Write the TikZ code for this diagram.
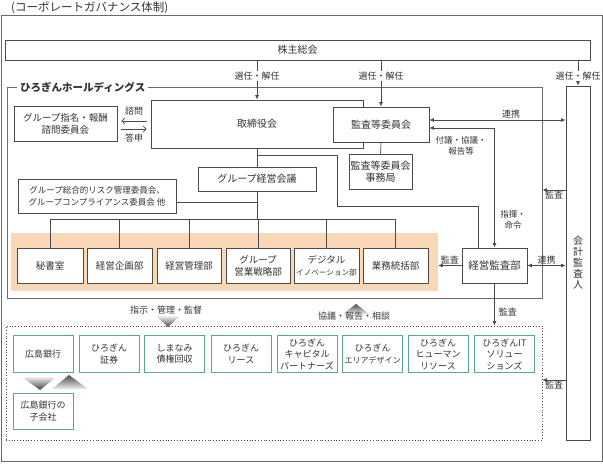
\documentclass[tikz,border=0pt]{standalone}
\usepackage{fontspec}
\setmainfont{Noto Sans CJK JP}
\usetikzlibrary{arrows.meta,calc}
\definecolor{lc}{HTML}{4A4A4A}
\definecolor{fc}{HTML}{6A6A6A}
\definecolor{tc}{HTML}{333333}
\definecolor{peach}{RGB}{250,215,182}
\definecolor{tealc}{RGB}{88,168,148}
\begin{document}
\begin{tikzpicture}[x=1pt,y=-1pt,
  every node/.style={text=tc},
  box/.style={draw=lc, line width=0.8pt, fill=white, inner sep=0pt, align=center},
  dept/.style={box, minimum height=35pt, font=\fontsize{9.5}{12}\selectfont},
  sub/.style={draw=tealc, line width=1pt, fill=white, inner sep=0pt, align=center, minimum width=60pt, minimum height=36pt, font=\fontsize{9}{11.5}\selectfont},
  ln/.style={draw=lc, line width=0.7pt},
  arr/.style={ln, -{Latex[length=4.5pt,width=4pt]}},
  darr/.style={ln, {Latex[length=4.5pt,width=4pt]}-{Latex[length=4.5pt,width=4pt]}},
  barb/.style={ln, -{Straight Barb[length=3pt,width=6pt]}},
  lbl/.style={font=\fontsize{9}{10.5}\selectfont, inner sep=1pt},
]
\useasboundingbox (0,0) rectangle (603,465);

% title and outer frame
\node[anchor=west, font=\fontsize{11.5}{12}\selectfont, inner sep=0pt] (title) at (11,8) {(コーポレートガバナンス体制)};
\draw[fc, line width=0.9pt] (1,15) rectangle (602,461);

\node[box, minimum width=585pt, minimum height=20pt, font=\fontsize{10}{12}\selectfont] (kab) at (297.5,50) {株主総会};

% holdings frame
\node[draw=fc, line width=0.9pt, minimum width=535pt, minimum height=211pt, inner sep=0pt] (hd) at (274.5,192.5) {};
\node[fill=peach, minimum width=427pt, minimum height=58pt, inner sep=0pt] (band) at (224.5,262) {};
\node[anchor=west, fill=white, font=\bfseries\fontsize{10.5}{12}\selectfont, inner xsep=3pt, inner ysep=1pt] (hdl) at (17,87) {ひろぎんホールディングス};

% subsidiaries frame
\node[draw=lc, dotted, line width=0.8pt, minimum width=536pt, minimum height=114pt, inner sep=0pt] (subs) at (274,383) {};

% boxes
\node[box, minimum width=212pt, minimum height=48pt, font=\fontsize{10}{12}\selectfont] (tor) at (257,124) {取締役会};
\node[box, minimum width=96pt, minimum height=35pt, font=\fontsize{10}{12}\selectfont] (kan) at (381,124.5) {監査等委員会};
\node[box, minimum width=63pt, minimum height=35pt, font=\fontsize{10}{12}\selectfont] (jim) at (380.5,171.5) {監査等委員会\\事務局};
\node[box, minimum width=118pt, minimum height=24pt, font=\fontsize{10}{12}\selectfont] (gkk) at (257,179) {グループ経営会議};
\node[box, minimum width=158pt, minimum height=34pt, font=\fontsize{8.5}{12}\selectfont] (risk) at (97,196) {グループ総合的リスク管理委員会、\\グループコンプライアンス委員会 他};
\node[box, minimum width=103pt, minimum height=35pt, font=\fontsize{9.5}{12}\selectfont] (nom) at (65.5,124) {グループ指名・報酬\\諮問委員会};

\node[dept, minimum width=66pt] (d1) at (50,265.5) {秘書室};
\node[dept, minimum width=65pt] (d2) at (119.5,265.5) {経営企画部};
\node[dept, minimum width=64pt] (d3) at (189,265.5) {経営管理部};
\node[dept, minimum width=64pt] (d4) at (258,265.5) {グループ\\営業戦略部};
\node[dept, minimum width=65pt] (d5) at (326.5,265.5) {デジタル\\{\fontsize{7.6}{12}\selectfont イノベーション部}};
\node[dept, minimum width=65pt] (d6) at (395.5,265.5) {業務統括部};

\node[box, minimum width=65pt, minimum height=35pt, font=\fontsize{10.5}{12}\selectfont] (kkb) at (494.5,265.5) {経営監査部};
\node[box, minimum width=24pt, minimum height=354pt, font=\fontsize{10}{11}\selectfont] (kai) at (578,263) {会\\計\\監\\査\\人};

% subsidiaries
\node[sub] (s1) at (43,354) {広島銀行};
\node[sub] (s2) at (109,354) {ひろぎん\\証券};
\node[sub] (s3) at (174.5,354) {しまなみ\\債権回収};
\node[sub] (s4) at (241,354) {ひろぎん\\リース};
\node[sub] (s5) at (307,354) {ひろぎん\\キャピタル\\パートナーズ};
\node[sub, font=\fontsize{8}{11.5}\selectfont] (s6) at (372.5,354) {\fontsize{9}{11.5}\selectfont ひろぎん\\エリアデザイン};
\node[sub] (s7) at (438,354) {ひろぎん\\ヒューマン\\リソース};
\node[sub] (s8) at (504.5,354) {ひろぎんIT\\ソリュー\\ションズ};
\node[sub] (s9) at (43,411) {広島銀行の\\子会社};

% connectors
\draw[arr] (kab.south -| tor.north) -- node[lbl, fill=white, pos=0.4]{選任・解任} (tor.north);
\draw[arr] (kab.south -| kan.north) -- node[lbl, fill=white, pos=0.34]{選任・解任} (kan.north);
\draw[arr] (kab.south -| kai.north) -- node[lbl, fill=white, pos=0.62]{選任・解任} (kai.north);

\draw[barb] ([yshift=3pt,xshift=-4pt]tor.west) -- node[lbl, above=4pt]{諮問} ([yshift=3pt,xshift=4pt]nom.east);
\draw[barb] ([yshift=-5pt,xshift=4pt]nom.east) -- node[lbl, below=3pt]{答申} ([yshift=-5pt,xshift=-4pt]tor.west);

\coordinate (j1) at (257,155);
\coordinate (bus) at (257,219);
\draw[ln] (tor.south) -- (gkk.north);
\draw[ln] (gkk.south) -- (bus);
\draw[ln] (kan.south) -- (jim.north);
\draw[ln] ([yshift=-6pt]risk.east) -- ([yshift=-6pt]risk.east -| gkk.south);
\draw[ln] (j1) -| (337,206) -| ($(kkb.north west)+(17,0)$);
\draw[ln] (d1.north) -- (d1.north |- bus) -- (d6.north |- bus) -- (d6.north);
\foreach \d in {d2,d3,d4,d5} \draw[ln] (\d.north) -- (\d.north |- bus);

\draw[darr] ([yshift=4.5pt]kan.east) -- node[lbl, above, pos=0.6]{連携} ([yshift=4.5pt]kan.east -| kai.west);
\draw[darr] ([yshift=-3.5pt]kan.east) -| (kkb.north);
\node[lbl, align=center, font=\fontsize{8.5}{11}\selectfont] (l1) at (461,146) {付議・協議・\\報告等};
\node[lbl, align=center, font=\fontsize{8.5}{11}\selectfont] (l2) at (513,220) {指揮・\\命令};

\draw[arr] (kkb.west) -- node[lbl, above]{監査} (kkb.west -| band.east);
\draw[darr] (kkb.east) -- node[lbl, above]{連携} (kkb.east -| kai.west);
\draw[arr] (kai.west |- 0,190) -- node[lbl, below]{監査} (hd.east |- 0,190);
\draw[arr] (kkb.south) -- node[lbl, right, pos=0.67, xshift=3pt]{監査} (kkb.south |- subs.north);
\draw[arr] (kai.west |- 0,380) -- node[lbl, below]{監査} (subs.east |- 0,380);

% triangles
\shade[top color=gray!12, bottom color=black!70] (156,316) -- (180,316) -- (168,327) -- cycle;
\shade[top color=black!70, bottom color=gray!12] (356,304) -- (369,314) -- (343,314) -- cycle;
\shade[top color=gray!12, bottom color=black!75] (22,377) -- (56,377) -- (40,390) -- cycle;
\shade[top color=black!70, bottom color=gray!12] (69,375) -- (88,389) -- (52,389) -- cycle;
\node[lbl] (t1) at (166,310) {指示・管理・監督};
\node[lbl] (t2) at (354,316) {協議・報告・相談};
\end{tikzpicture}
\end{document}
